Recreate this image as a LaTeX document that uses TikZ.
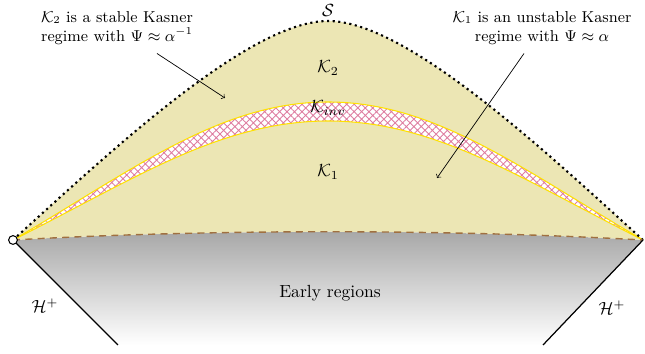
\documentclass[tikz,border=0pt]{standalone}
\usepackage{amsmath,amssymb}
\usetikzlibrary{patterns.meta}

\definecolor{kasner}{RGB}{236,230,180}
\definecolor{interface}{RGB}{160,112,64}
\definecolor{earlytop}{RGB}{166,166,166}
\definecolor{bandline}{RGB}{255,225,0}
\definecolor{bandhatch}{RGB}{222,125,160}

\begin{document}
\begin{tikzpicture}
[
	note/.style={align=center,font=\small},
	region/.style={font=\normalsize},
	openpt/.style={circle,draw,fill=white,inner sep=0pt,minimum size=5pt,line width=0.6pt},
	horizon/.style={line width=0.7pt}
]

	\useasboundingbox (0,0) rectangle (12.9,7.08);

	% corner points
	\coordinate (L) at (0.26,2.28);
	\coordinate (R) at (12.86,2.28);
	\coordinate (LB) at (2.36,0.18);
	\coordinate (RB) at (10.86,0.18);

	% early regions (shaded)
	\shade[top color=earlytop,bottom color=white]
		(L) .. controls (4.2,2.50) and (8.92,2.50) .. (R)
		-- (RB) -- (LB) -- cycle;

	% Kasner regions
	\fill[kasner]
		(L) .. controls (2.26,4.10) and (5.0,6.66) .. (6.56,6.66)
		.. controls (8.12,6.66) and (10.86,4.10) .. (R)
		.. controls (8.92,2.50) and (4.2,2.50) .. (L);

	% K_inv band
	\fill[white]
		(L) .. controls (2.66,3.68) and (4.4,5.04) .. (6.56,5.04)
		.. controls (8.72,5.04) and (10.46,3.68) .. (R)
		.. controls (10.46,3.48) and (8.72,4.66) .. (6.56,4.66)
		.. controls (4.4,4.66) and (2.66,3.48) .. (L);
	\fill[pattern={Hatch[angle=45,distance=3pt,line width=0.5pt]},pattern color=bandhatch]
		(L) .. controls (2.66,3.68) and (4.4,5.04) .. (6.56,5.04)
		.. controls (8.72,5.04) and (10.46,3.68) .. (R)
		.. controls (10.46,3.48) and (8.72,4.66) .. (6.56,4.66)
		.. controls (4.4,4.66) and (2.66,3.48) .. (L);
	\draw[bandline,line width=0.6pt]
		(L) .. controls (2.66,3.68) and (4.4,5.04) .. (6.56,5.04)
		.. controls (8.72,5.04) and (10.46,3.68) .. (R);
	\draw[bandline,line width=0.6pt]
		(L) .. controls (2.66,3.48) and (4.4,4.66) .. (6.56,4.66)
		.. controls (8.72,4.66) and (10.46,3.48) .. (R);

	% singularity
	\draw[line width=1.2pt,dotted]
		(L) .. controls (2.26,4.10) and (5.0,6.66) .. (6.56,6.66)
		.. controls (8.12,6.66) and (10.86,4.10) .. (R);

	% interface
	\draw[interface,dashed,line width=0.8pt,dash pattern=on 4pt off 3pt]
		(L) .. controls (4.2,2.50) and (8.92,2.50) .. (R);

	% horizons
	\draw[horizon] (L) -- (LB);
	\draw[horizon] (R) -- (RB);
	\node[openpt] (ipt) at (L) {};

	% labels
	\node[region,inner sep=1pt] (sing) at (6.56,6.86) {$\mathcal{S}$};
	\node[region] (k2) at (6.56,5.72) {$\mathcal{K}_2$};
	\node[region] (kinv) at (6.56,4.92) {$\mathcal{K}_{inv}$};
	\node[region] (k1) at (6.56,3.64) {$\mathcal{K}_1$};
	\node[region] (early) at (6.6,1.22) {Early regions};
	\node[region] (hl) at (0.9,0.96) {$\mathcal{H}^+$};
	\node[region] (hr) at (12.24,0.92) {$\mathcal{H}^+$};

	% notes
	\node[note] (note2) at (2.34,6.52) {$\mathcal{K}_2$ is a stable Kasner\\regime with $\Psi\approx\alpha^{-1}$};
	\node[note] (note1) at (10.84,6.52) {$\mathcal{K}_1$ is an unstable Kasner\\regime with $\Psi\approx\alpha$};
	\coordinate (tip2) at (4.5,5.12);
	\coordinate (tip1) at (8.74,3.52);
	\draw[->] (note2.south -| 3.14,0) ++(0,-0.05) -- (tip2);
	\draw[->] (note1.south -| 10.48,0) ++(0,-0.05) -- (tip1);

\end{tikzpicture}
\end{document}
